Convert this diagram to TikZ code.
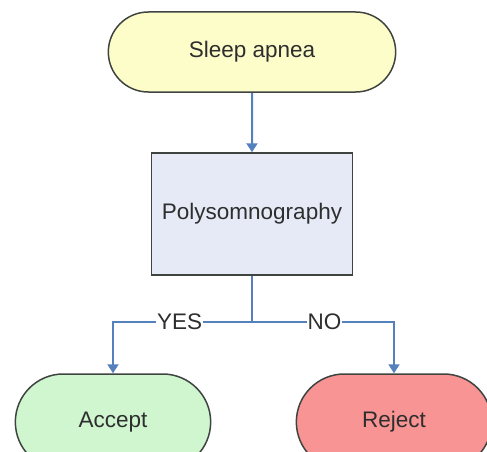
\documentclass[tikz,border=0pt]{standalone}
\usepackage{fontspec}
\setmainfont{Liberation Sans}
\usetikzlibrary{shapes.misc,arrows.meta}
\definecolor{edgegray}{HTML}{3F4440}
\definecolor{linkblue}{HTML}{5580BE}
\definecolor{textgray}{HTML}{2E2E2E}
\definecolor{startfill}{HTML}{FDFDCA}
\definecolor{boxfill}{HTML}{E6EAF6}
\definecolor{acceptfill}{HTML}{CFF6CF}
\definecolor{rejectfill}{HTML}{F89494}
\tikzset{
  terminal/.style={rounded rectangle, draw=edgegray, line width=1.5pt, text=textgray},
  process/.style={rectangle, draw=edgegray, line width=1.5pt, fill=boxfill, text=textgray},
  link/.style={draw=linkblue, line width=2pt},
  arrowlink/.style={link, -{Triangle[length=9pt,width=11pt]}},
  branchlabel/.style={fill=white, inner sep=1pt, text=textgray}
}
\begin{document}
\begin{tikzpicture}[x=1pt, y=-1pt, font=\fontsize{22.5}{26}\selectfont]
\useasboundingbox (0,0) rectangle (487,452);
\clip (0,0) rectangle (487,452);
\fill[white] (0,0) rectangle (487,452);

\node[terminal, fill=startfill, minimum width=294pt, minimum height=80pt] (start) at (252,52) {Sleep apnea};
\node[process, minimum width=201pt, minimum height=122pt] (psg) at (252,214) {Polysomnography};
\node[terminal, fill=acceptfill, minimum width=202pt, minimum height=96pt] (accept) at (113,422) {Accept};
\node[terminal, fill=rejectfill, minimum width=202pt, minimum height=96pt] (reject) at (394,422) {Reject};

\coordinate (fork) at (252,322);

\draw[arrowlink] (start) -- (psg);
\draw[link] (psg) -- (fork);
\draw[arrowlink] (fork) -- node[branchlabel, pos=0.52] {YES} (fork -| accept.north) -- (accept.north);
\draw[arrowlink] (fork) -- node[branchlabel, pos=0.51] {NO} (fork -| reject.north) -- (reject.north);
\end{tikzpicture}
\end{document}
